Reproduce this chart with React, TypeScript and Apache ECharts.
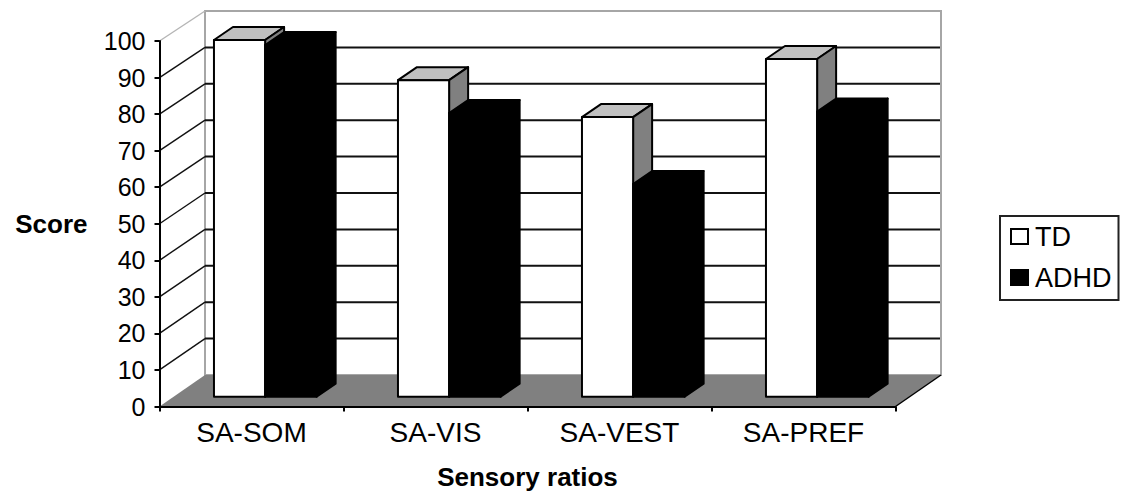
import React, { useEffect, useRef } from "react";
import * as echarts from "echarts";

const categories = ["SA-SOM", "SA-VIS", "SA-VEST", "SA-PREF"];
const tdValues = [97.6, 86.6, 76.5, 92.4];
const adhdValues = [96.2, 77.6, 58.2, 78];
const yTicks = [0, 10, 20, 30, 40, 50, 60, 70, 80, 90, 100];

const FONT = '"Liberation Sans", Arial, sans-serif';
const WALL_DX = 45.5;
const wallDy = (v: number) => -31.5 + v * 0.015;
const BAR_FRONT_DY = -9.8;
const BAR_DX = 19;
const BAR_DY = -13;

function renderWall(params: any, api: any) {
  const v = api.value(1);
  const cs = params.coordSys;
  const x0 = cs.x;
  const x1 = cs.x + cs.width;
  const y = api.coord([0, v])[1];
  const by = y + wallDy(v);
  const bx = x0 + WALL_DX;
  const bx1 = x1 + WALL_DX;
  const children: any[] = [];
  if (v === 0) {
    const yTop = api.coord([0, 100])[1];
    const byTop = yTop + wallDy(100);
    children.push({
      type: "polygon",
      shape: { points: [[bx, byTop], [bx1, byTop], [bx1, by], [bx, by]] },
      style: { fill: "#ffffff", stroke: "#a6a6a6", lineWidth: 2 },
    });
    children.push({
      type: "polygon",
      shape: { points: [[x0, y], [bx, by], [bx1, by], [x1, y]] },
      style: { fill: "#808080", stroke: "none" },
    });
    children.push({
      type: "line",
      shape: { x1: x1, y1: y, x2: bx1, y2: by },
      style: { stroke: "#000000", lineWidth: 1.5 },
    });
  } else {
    const isTop = v === 100;
    const color = isTop ? "#b5b5b5" : "#111111";
    children.push({
      type: "line",
      shape: { x1: x0, y1: y, x2: bx, y2: by },
      style: { stroke: color, lineWidth: 1.4 },
    });
    if (!isTop) {
      children.push({
        type: "line",
        shape: { x1: bx, y1: by, x2: bx1 - 1, y2: by },
        style: { stroke: color, lineWidth: 2 },
      });
    }
  }
  return { type: "group", children };
}

function makeBar(fromFrac: number, toFrac: number, face: string, top: string, side: string) {
  return (params: any, api: any) => {
    const cat = api.value(0);
    const center = api.coord([cat, 0]);
    const topPt = api.coord([cat, api.value(1)]);
    const band = api.size([1, 0])[0];
    const start = center[0] - band / 2;
    const l = start + band * fromFrac;
    const r = start + band * toFrac;
    const b = center[1] + BAR_FRONT_DY;
    const t = topPt[1] + BAR_FRONT_DY;
    const line = { stroke: "#000000", lineWidth: 2, lineJoin: "round" };
    return {
      type: "group",
      children: [
        {
          type: "polygon",
          shape: { points: [[l, t], [l + BAR_DX, t + BAR_DY], [r + BAR_DX, t + BAR_DY], [r, t]] },
          style: { fill: top, ...line },
        },
        {
          type: "polygon",
          shape: { points: [[r, t], [r + BAR_DX, t + BAR_DY], [r + BAR_DX, b + BAR_DY], [r, b]] },
          style: { fill: side, ...line },
        },
        {
          type: "rect",
          shape: { x: l, y: t, width: r - l, height: b - t },
          style: { fill: face, ...line },
        },
      ],
    };
  };
}

export default function App() {
  const ref = useRef<HTMLDivElement>(null);
  useEffect(() => {
    const chart = echarts.init(ref.current!, undefined, { renderer: "svg" });
    chart.setOption({
      animation: false,
      backgroundColor: "#ffffff",
      textStyle: { fontFamily: FONT, color: "#000000" },
      grid: { left: 159.5, top: 41, width: 736, height: 365.5, containLabel: false, outerBoundsMode: "none" },
      legend: {
        orient: "vertical",
        left: 1000,
        top: 216,
        padding: [7, 7, 9, 10],
        borderColor: "#222222",
        borderWidth: 2,
        itemGap: 14,
        itemWidth: 17,
        itemHeight: 15,
        icon: "rect",
        selectedMode: false,
        data: ["TD", "ADHD"],
        textStyle: { fontFamily: FONT, fontSize: 27, color: "#000000", padding: [0, 0, 0, 2] },
      },
      xAxis: {
        type: "category",
        data: categories,
        z: 10,
        name: "Sensory ratios",
        nameLocation: "middle",
        nameGap: 57,
        nameTextStyle: { fontFamily: FONT, fontSize: 26, fontWeight: "bold", color: "#000000" },
        axisLine: { lineStyle: { color: "#000000", width: 2 } },
        axisTick: { show: true, length: 5, lineStyle: { color: "#000000", width: 2 } },
        axisLabel: { fontFamily: FONT, fontSize: 28, color: "#000000", margin: 12 },
      },
      yAxis: {
        type: "value",
        min: 0,
        max: 100,
        interval: 10,
        z: 10,
        name: "Score",
        nameLocation: "middle",
        nameRotate: 0,
        nameGap: 72,
        nameTextStyle: { fontFamily: FONT, fontSize: 26, fontWeight: "bold", color: "#000000" },
        splitLine: { show: false },
        axisLine: { show: true, lineStyle: { color: "#000000", width: 2 } },
        axisTick: { show: true, length: 5, lineStyle: { color: "#000000", width: 2 } },
        axisLabel: { fontFamily: FONT, fontSize: 25, color: "#000000", margin: 14 },
      },
      series: [
        {
          type: "custom",
          name: "wall",
          silent: true,
          clip: false,
          z: 1,
          encode: { x: 0, y: 1 },
          data: yTicks.map((v) => [0, v]),
          renderItem: renderWall,
        },
        {
          type: "custom",
          name: "TD",
          clip: false,
          z: 2,
          itemStyle: { color: "#ffffff", borderColor: "#000000", borderWidth: 2 },
          encode: { x: 0, y: 1 },
          data: tdValues.map((v, i) => [i, v]),
          renderItem: makeBar(0.296, 0.574, "#ffffff", "#c0c0c0", "#808080"),
        },
        {
          type: "custom",
          name: "ADHD",
          clip: false,
          z: 3,
          itemStyle: { color: "#000000", borderColor: "#000000", borderWidth: 2 },
          encode: { x: 0, y: 1 },
          data: adhdValues.map((v, i) => [i, v]),
          renderItem: makeBar(0.574, 0.854, "#000000", "#000000", "#000000"),
        },
      ],
    });
    return () => chart.dispose();
  }, []);
  return <div ref={ref} style={{ position: "fixed", left: 0, top: 0, width: 1122, height: 492 }} />;
}
